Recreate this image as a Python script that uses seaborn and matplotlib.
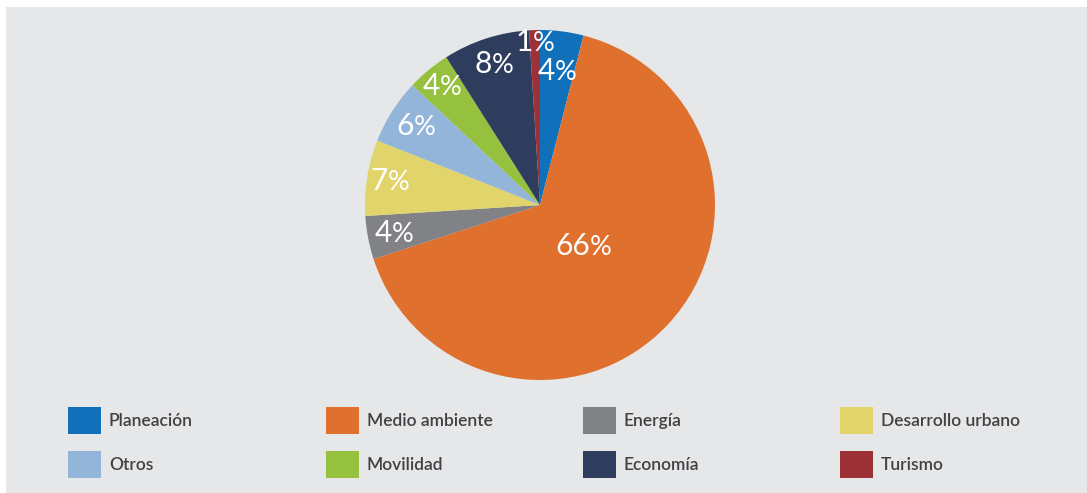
import numpy as np
import matplotlib
matplotlib.use("Agg")
import matplotlib.pyplot as plt
from matplotlib.patches import Patch, Rectangle
from matplotlib.offsetbox import TextArea, HPacker, AnnotationBbox
import seaborn as sns

# ---- data ----
categories = ["Planeación", "Medio ambiente", "Energía", "Desarrollo urbano",
              "Otros", "Movilidad", "Economía", "Turismo"]
values = [4, 66, 4, 7, 6, 4, 8, 1]
hex_colors = ["#1071BA", "#E0702E", "#808285", "#E0D46B",
              "#93B5D9", "#95C13E", "#2E3C5D", "#9C3137"]
# label radial placement (fraction of radius) per slice
label_dist = [0.77, 0.34, 0.85, 0.87, 0.84, 0.88, 0.85, 0.93]

sns.set_theme(style="white")
plt.rcParams["font.family"] = ["Lato", "DejaVu Sans"]
palette = sns.color_palette(hex_colors)

W, H = 1087, 493
fig = plt.figure(figsize=(W / 100, H / 100), dpi=100)
fig.patch.set_facecolor("white")
# gray panel
fig.patches.append(Rectangle((6 / W, 0), 1, 1 - 7 / H, transform=fig.transFigure,
                             facecolor="#E6E7E8", edgecolor="none", zorder=-5))

R = 175
cx, cy = 540, 205
ax = fig.add_axes([(cx - R) / W, (H - cy - R) / H, 2 * R / W, 2 * R / H])
ax.set_zorder(2)
ax.set_facecolor("none")
wedges, _ = ax.pie(values, colors=palette, startangle=90, counterclock=False,
                   radius=1, wedgeprops=dict(linewidth=0))
ax.set_xlim(-1, 1)
ax.set_ylim(-1, 1)
ax.set_aspect("equal")
ax.axis("off")

for w, v, d in zip(wedges, values, label_dist):
    ang = np.deg2rad((w.theta1 + w.theta2) / 2)
    num = TextArea(f"{v}", textprops=dict(color="white", fontsize=21.5,
                                          family=["Lato", "DejaVu Sans"]))
    pct = TextArea("%", textprops=dict(color="white", fontsize=19.5,
                                       family=["Lato", "DejaVu Sans"]))
    box = HPacker(children=[num, pct], align="baseline", pad=0, sep=0)
    ab = AnnotationBbox(box, (d * np.cos(ang), d * np.sin(ang)),
                        xycoords="data", frameon=False,
                        box_alignment=(0.5, 0.5), pad=0)
    ax.add_artist(ab)

# legend: 4 columns, 2 rows
col_x = [68, 326, 583, 840]
for i, x in enumerate(col_x):
    idxs = [i, i + 4]
    handles = [Patch(facecolor=palette[j], edgecolor="none") for j in idxs]
    leg = fig.legend(handles, [categories[j] for j in idxs],
                     loc="upper left", bbox_to_anchor=(x / W, 1 - 407 / H),
                     frameon=False, borderpad=0, borderaxespad=0,
                     handlelength=1.9, handleheight=2.0, handletextpad=0.45,
                     labelspacing=1.0,
                     prop=dict(family=["Lato", "DejaVu Sans"], size=12.5,
                               weight="semibold"))
    leg.set_zorder(3)
    for t in leg.get_texts():
        t.set_color("#414042")

fig.savefig("out.png", dpi=100, facecolor=fig.get_facecolor())
